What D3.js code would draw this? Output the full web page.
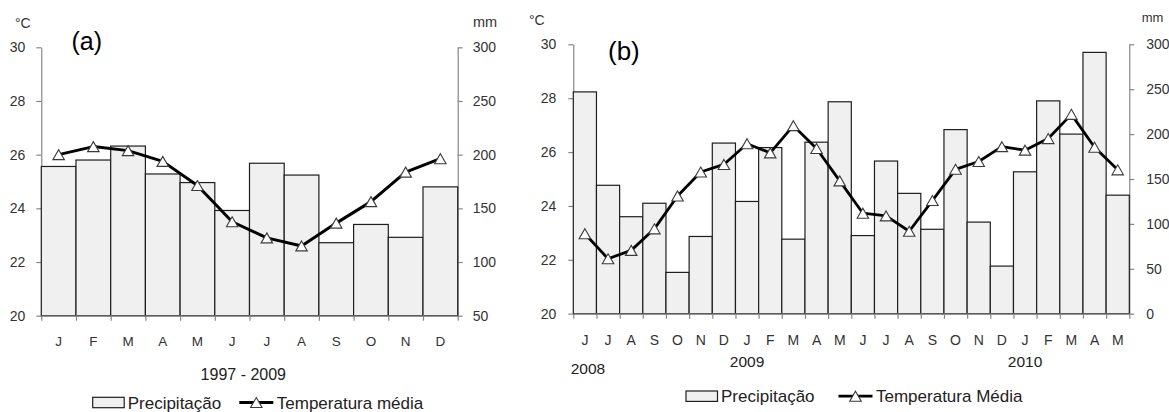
<!DOCTYPE html>
<html>
<head>
<meta charset="utf-8">
<script src="https://cdn.jsdelivr.net/npm/d3@7"></script>
<style>
  body { margin: 0; background: #fff; }
  svg { display: block; font-family: "Liberation Sans", Arial, sans-serif; }
</style>
</head>
<body>
<svg id="chart" width="1169" height="412"></svg>
<script>
// (a) monthly climatology 1997 - 2009
const monthsA = ["J", "F", "M", "A", "M", "J", "J", "A", "S", "O", "N", "D"];
const precipA = [189, 195, 208, 182, 174, 148, 192, 181, 118, 135, 123, 170];
const tempA = [26.0, 26.3, 26.15, 25.75, 24.85, 23.5, 22.9, 22.6, 23.45, 24.25, 25.35, 25.85];

// (b) monthly series June 2008 - May 2010
const monthsB = ["J", "J", "A", "S", "O", "N", "D", "J", "F", "M", "A", "M",
                 "J", "J", "A", "S", "O", "N", "D", "J", "F", "M", "A", "M"];
const precipB = [247, 143, 108, 123, 46, 86, 190, 125, 185, 83, 191, 236,
                 87, 170, 134, 94, 205, 102, 53, 158, 237, 200, 291, 132];
const tempB = [22.97, 22.04, 22.35, 23.15, 24.37, 25.26, 25.54, 26.31, 25.97, 26.98, 26.13, 24.93,
               23.73, 23.63, 23.06, 24.2, 25.36, 25.65, 26.2, 26.07, 26.5, 27.4, 26.18, 25.34];
const yearTextB = ["2008", "2009", "2010"];
const yearMonthIndexB = [0, 7, 19];

// axis ticks
const tempTicks = [20, 22, 24, 26, 28, 30];
const precipTicksA = [50, 100, 150, 200, 250, 300];
const precipTicksB = [0, 50, 100, 150, 200, 250, 300];

const svg = d3.select("#chart");
const AXIS = "#878787";
const TXT = "#333";
const BAR_FILL = "#f0f0f0";
const BAR_STROKE = "#1e1e1e";

// triangle marker centred on its bounding box
function triPath(w, h) {
  return `M0,${-h / 2}L${w / 2},${h / 2}L${-w / 2},${h / 2}Z`;
}

function drawPanel(cfg) {
  const g = svg.append("g");
  const n = cfg.months.length;
  const x = d3.scaleBand().domain(d3.range(n)).range([cfg.left, cfg.right]).padding(0);
  const xEdge = d3.scaleLinear().domain([0, n]).range([cfg.left, cfg.right]);
  const yT = d3.scaleLinear().domain([20, 30]).range([cfg.bottom, cfg.top]);
  const yP = d3.scaleLinear().domain(cfg.pDomain).range([cfg.bottom, cfg.top]);

  const style = sel => {
    sel.select(".domain").attr("stroke", AXIS).attr("stroke-width", 1.2);
    sel.selectAll(".tick line").attr("stroke", AXIS).attr("stroke-width", 1.2);
    sel.selectAll(".tick text").attr("fill", TXT).attr("font-size", cfg.tickFont)
      .attr("font-family", "Liberation Sans, Arial, sans-serif");
  };

  // left temperature axis
  g.append("g").attr("transform", `translate(${cfg.left},0)`)
    .call(d3.axisLeft(yT).tickValues(tempTicks).tickSize(cfg.tickLen).tickPadding(cfg.leftPad)
      .tickSizeOuter(0).tickFormat(d3.format("d")))
    .call(style);

  // right precipitation axis
  g.append("g").attr("transform", `translate(${cfg.right},0)`)
    .call(d3.axisRight(yP).tickValues(cfg.pTicks).tickSize(cfg.tickLen).tickPadding(cfg.rightPad)
      .tickSizeOuter(0).tickFormat(d3.format("d")))
    .call(style);

  // precipitation bars
  g.append("g").selectAll("rect").data(cfg.precip).join("rect")
    .attr("x", (d, i) => x(i))
    .attr("width", x.bandwidth())
    .attr("y", d => yP(d))
    .attr("height", d => cfg.bottom - yP(d))
    .attr("fill", BAR_FILL)
    .attr("stroke", BAR_STROKE)
    .attr("stroke-width", 1.2);

  // category boundary ticks along the baseline
  g.append("g").attr("transform", `translate(0,${cfg.bottom})`)
    .call(d3.axisBottom(xEdge).tickValues(d3.range(n + 1)).tickSize(cfg.tickLen).tickSizeOuter(0)
      .tickFormat(""))
    .call(style);

  // month labels
  g.append("g").attr("transform", `translate(0,${cfg.bottom})`)
    .call(d3.axisBottom(x).tickSize(0).tickPadding(cfg.monthPad).tickFormat(i => cfg.months[i]))
    .call(sel => {
      sel.select(".domain").remove();
      sel.selectAll(".tick text").attr("fill", TXT).attr("font-size", cfg.monthFont)
        .attr("font-family", "Liberation Sans, Arial, sans-serif");
    });

  // temperature line
  const line = d3.line().x((d, i) => x(i) + x.bandwidth() / 2).y(d => yT(d));
  g.append("path").datum(cfg.temp)
    .attr("d", line)
    .attr("fill", "none")
    .attr("stroke", "#000")
    .attr("stroke-width", cfg.lineW)
    .attr("stroke-linejoin", "round");

  g.append("g").selectAll("path").data(cfg.temp).join("path")
    .attr("transform", (d, i) => `translate(${x(i) + x.bandwidth() / 2},${yT(d)})`)
    .attr("d", triPath(11.5, 10))
    .attr("fill", "#fff")
    .attr("stroke", "#3a3a3a")
    .attr("stroke-width", 1.1);

  // unit labels and panel letter
  g.append("text").attr("x", cfg.degX).attr("y", cfg.degY).attr("font-size", 14)
    .attr("fill", TXT).text("°C");
  g.append("text").attr("x", cfg.mmX).attr("y", cfg.mmY).attr("font-size", cfg.mmFont)
    .attr("fill", TXT).text("mm");
  g.append("text").attr("x", cfg.letterX).attr("y", cfg.letterY).attr("font-size", cfg.letterFont)
    .attr("fill", "#000").text(cfg.letter);

  // legend
  const lg = g.append("g");
  lg.append("rect").attr("x", cfg.legRectX).attr("y", cfg.legY - 5.2)
    .attr("width", 31.5).attr("height", 10.4)
    .attr("fill", BAR_FILL).attr("stroke", BAR_STROKE).attr("stroke-width", 1.2);
  lg.append("text").attr("x", cfg.legRectX + 35).attr("y", cfg.legY + 6)
    .attr("font-size", 17).attr("fill", "#222").text("Precipitação");
  lg.append("line").attr("x1", cfg.legLineX).attr("x2", cfg.legLineX + 34)
    .attr("y1", cfg.legY).attr("y2", cfg.legY)
    .attr("stroke", "#000").attr("stroke-width", cfg.lineW);
  lg.append("path").attr("transform", `translate(${cfg.legLineX + 17},${cfg.legY})`)
    .attr("d", triPath(11.5, 10)).attr("fill", "#fff").attr("stroke", "#3a3a3a").attr("stroke-width", 1.1);
  lg.append("text").attr("x", cfg.legLineX + 37.5).attr("y", cfg.legY + 6)
    .attr("font-size", 17).attr("fill", "#222").text(cfg.tempLabel);

  return { x, g };
}

// panel (a)
const pa = drawPanel({
  months: monthsA, precip: precipA, temp: tempA,
  left: 41.3, right: 457.7, top: 47.3, bottom: 315.7,
  pDomain: [50, 300], pTicks: precipTicksA,
  tickLen: 5, leftPad: 11, rightPad: 10, tickFont: 14,
  monthPad: 21, monthFont: 13.5, lineW: 3,
  degX: 15, degY: 27.7, mmX: 473, mmY: 27, mmFont: 14.5,
  letter: "(a)", letterX: 71.5, letterY: 49.5, letterFont: 25,
  legY: 402.5, legRectX: 92.7, legLineX: 239.3,
  tempLabel: "Temperatura média"
});
pa.g.append("text").attr("x", 243.3).attr("y", 379.7).attr("text-anchor", "middle")
  .attr("font-size", 16).attr("fill", "#222").text("1997 - 2009");

// panel (b)
const pb = drawPanel({
  months: monthsB, precip: precipB, temp: tempB,
  left: 573.3, right: 1129.3, top: 44.3, bottom: 313.7,
  pDomain: [0, 300], pTicks: precipTicksB,
  tickLen: 5, leftPad: 12, rightPad: 12, tickFont: 14,
  monthPad: 21, monthFont: 14, lineW: 2.8,
  degX: 529, degY: 25, mmX: 1141.7, mmY: 22, mmFont: 13,
  letter: "(b)", letterX: 608, letterY: 60, letterFont: 26,
  legY: 396.2, legRectX: 686, legLineX: 838.5,
  tempLabel: "Temperatura Média"
});
pb.g.append("g").selectAll("text").data(yearTextB).join("text")
  .attr("x", (d, i) => pb.x(yearMonthIndexB[i]) + pb.x.bandwidth() / 2 + (i === 0 ? 3 : 0))
  .attr("y", (d, i) => i === 0 ? 373.6 : 367.3)
  .attr("text-anchor", "middle")
  .attr("font-size", 15.5).attr("fill", "#222")
  .text(d => d);
</script>
</body>
</html>
